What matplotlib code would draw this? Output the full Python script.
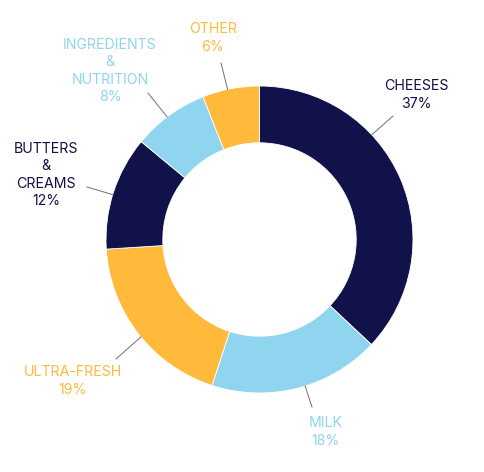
import numpy as np
import matplotlib.pyplot as plt

plt.rcParams['font.family'] = ['Inter', 'DejaVu Sans']

categories = ['CHEESES', 'MILK', 'ULTRA-FRESH', 'BUTTERS\n&\nCREAMS',
              'INGREDIENTS\n&\nNUTRITION', 'OTHER']
shares = [37, 18, 19, 12, 8, 6]

navy = '#12124a'
sky = '#8fd5f0'
gold = '#ffba3b'
colors = [navy, sky, gold, navy, sky, gold]

H = 472
# label placement (pixel coords from the top) and leader line geometry
label_xy = [(416, 95), (326, 432), (73, 381), (46, 175), (110, 71), (213, 38)]
leader_ang = [43, -72.7, 219.4, 163, 127, 102]
leader_end = [(393, 116), (312, 407), (116, 359), (87, 187), (148, 93), (221, 63)]

cx, cy, r = 259.5, H - 239.5, 153.5

fig = plt.figure(figsize=(4.84, 4.72), dpi=100)
ax = fig.add_axes([0, 0, 1, 1])
ax.pie(shares, colors=colors, startangle=90, counterclock=False,
       center=(cx, cy), radius=r, frame=True,
       wedgeprops=dict(width=r * 0.37, edgecolor='white', linewidth=0.6))
ax.set_xlim(0, 484)
ax.set_ylim(0, H)
ax.set_aspect('equal')
ax.axis('off')

for lab, s, col, (tx, ty), a, (ex, ey) in zip(categories, shares, colors,
                                              label_xy, leader_ang, leader_end):
    sx = cx + r * np.cos(np.radians(a))
    sy = cy + r * np.sin(np.radians(a))
    ax.plot([sx, ex], [sy, H - ey], color='#707070', lw=0.7)
    ax.text(tx, H - ty, f'{lab}\n{s}%', color=col, ha='center', va='center',
            fontsize=10.2, linespacing=1.32)

fig.savefig('out.png', dpi=100)
